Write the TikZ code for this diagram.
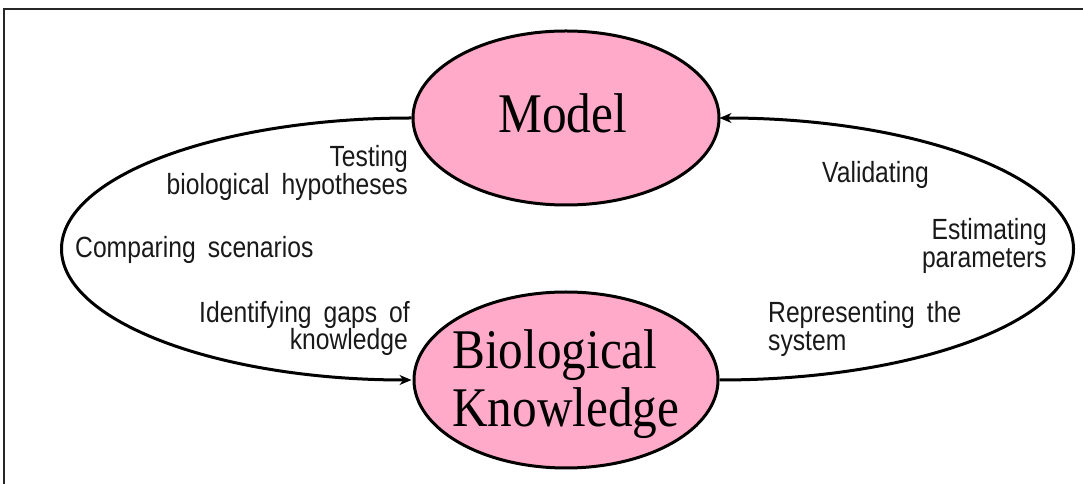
\documentclass[tikz,border=0pt]{standalone}
\usepackage{fontspec}
\usetikzlibrary{shapes.geometric,arrows.meta}
\newfontfamily\labfont[FakeStretch=0.845,WordSpace=1.75]{Liberation Sans}
\newfontfamily\bigfont[FakeStretch=0.88]{Liberation Serif}
\definecolor{pinkfill}{RGB}{255,170,200}
\definecolor{txt}{RGB}{25,25,25}
\tikzset{
  bubble/.style={ellipse,draw=black,line width=3pt,fill=pinkfill,inner sep=0pt},
  lab/.style={inner sep=0pt,text=txt,font=\labfont\fontsize{29.2}{29.2}\selectfont},
  big/.style={inner sep=0pt,text=black,font=\bigfont\fontsize{56}{56}\selectfont},
  loop/.style={line width=3pt,draw=black,-{Stealth[length=12pt,width=10pt]}}
}
\begin{document}
\begin{tikzpicture}[x=1pt,y=1pt]
\useasboundingbox (0,0) rectangle (1083,484);
\draw[line width=1.3pt,color=black!85] (4,0) -- (4,475) -- (1083,475);
\node[bubble,minimum width=306pt,minimum height=174pt] (m) at (566,366) {};
\node[bubble,minimum width=304pt,minimum height=176pt] (b) at (566,104) {};
\node[big,anchor=base west] (mt) at (498,351) {Model};
\node[big,anchor=base west] (bt1) at (452,115) {Biological};
\node[big,anchor=base west] (bt2) at (452,57) {Knowledge};
\draw[loop] (m.west) arc[start angle=90,end angle=270,x radius=350,y radius=131];
\draw[loop] (b.east) arc[start angle=-90,end angle=90,x radius=354,y radius=131];
\node[lab,anchor=base east] (l1) at (408,317) {Testing};
\node[lab,anchor=base east] (l2) at (408,289) {biological hypotheses};
\node[lab,anchor=base west] (l3) at (75,226) {Comparing scenarios};
\node[lab,anchor=base east] (l4) at (410,161) {Identifying gaps of};
\node[lab,anchor=base east] (l5) at (408,134) {knowledge};
\node[lab,anchor=base west] (r1) at (822,301) {Validating};
\node[lab,anchor=base east] (r2) at (1047,244) {Estimating};
\node[lab,anchor=base east] (r3) at (1047,216) {parameters};
\node[lab,anchor=base west] (r4) at (768,161) {Representing the};
\node[lab,anchor=base west] (r5) at (768,133) {system};
\end{tikzpicture}
\end{document}
